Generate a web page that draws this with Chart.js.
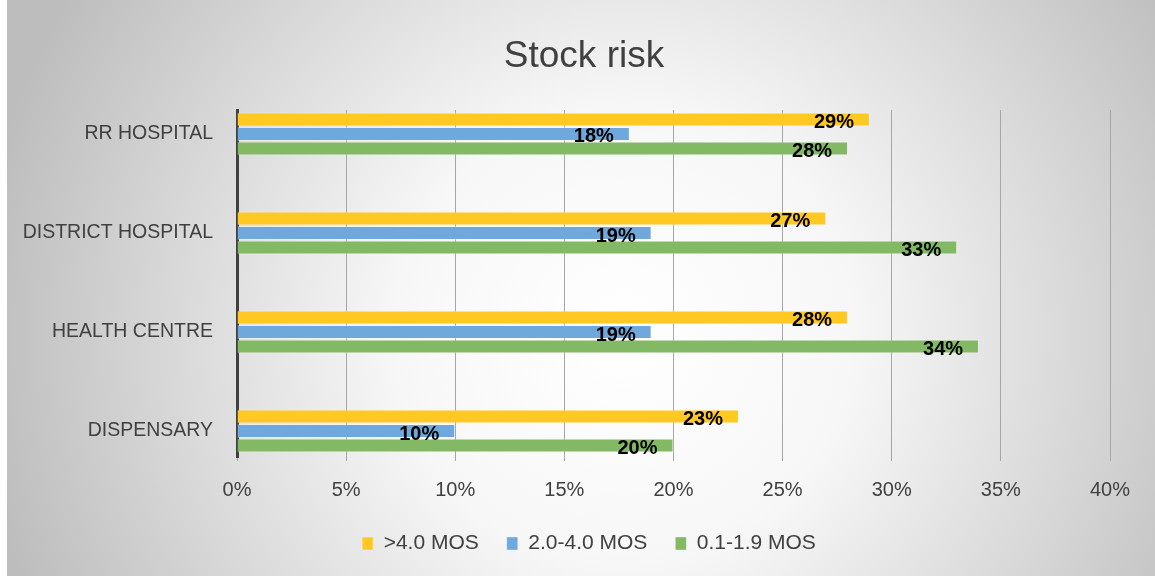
<!DOCTYPE html>
<html>
<head>
<meta charset="utf-8">
<script src="https://cdn.jsdelivr.net/npm/chart.js@4.4.1/dist/chart.umd.min.js"></script>
<style>
  html, body { margin: 0; padding: 0; background: #ffffff; }
  #wrap { width: 1155px; height: 578px; position: relative; }
</style>
</head>
<body>
<div id="wrap"><canvas id="c" width="1155" height="578"></canvas></div>
<script>
const categories = ['RR HOSPITAL', 'DISTRICT HOSPITAL', 'HEALTH CENTRE', 'DISPENSARY'];
const seriesNames = ['>4.0 MOS', '2.0-4.0 MOS', '0.1-1.9 MOS'];
const over4 = [29, 27, 28, 23];
const mid2to4 = [18, 19, 19, 10];
const low01to19 = [28, 33, 34, 20];
const xTicks = [0, 5, 10, 15, 20, 25, 30, 35, 40];
const colors = ['#FFC823', '#6FA8DC', '#83B965'];

const seriesValues = [over4, mid2to4, low01to19];
const font = "'Liberation Sans', Arial, sans-serif";

const bgPlugin = {
  id: 'bg',
  beforeDraw(chart) {
    const ctx = chart.ctx;
    const w = chart.width, h = chart.height;
    ctx.save();
    ctx.fillStyle = '#ffffff';
    ctx.fillRect(0, 0, w, h);
    const g = ctx.createRadialGradient(w * 0.54, h * 0.58, 0, w * 0.54, h * 0.58, 650);
    g.addColorStop(0, '#ffffff');
    g.addColorStop(0.35, '#f7f7f7');
    g.addColorStop(1, '#bdbdbd');
    ctx.fillStyle = g;
    ctx.fillRect(7, 0, w - 7, h - 2);
    ctx.restore();
  }
};

// shift title and legend so they are centred like the reference
const centrePlugin = {
  id: 'centre',
  afterLayout(chart) {
    if (chart.legend) { chart.legend.left = 68; }
    if (chart.titleBlock) { chart.titleBlock.left = 58; }
  }
};

const labelPlugin = {
  id: 'barLabels',
  afterDatasetsDraw(chart) {
    const ctx = chart.ctx;
    ctx.save();
    ctx.font = "bold 20px " + font;
    ctx.fillStyle = '#000000';
    ctx.textAlign = 'right';
    ctx.textBaseline = 'middle';
    chart.data.datasets.forEach((ds, di) => {
      const meta = chart.getDatasetMeta(di);
      meta.data.forEach((el, i) => {
        const v = seriesValues[di][i];
        ctx.fillText(v + '%', el.x - 16, el.y + 3);
      });
    });
    ctx.restore();
  }
};

const datasets = seriesNames.map((name, di) => ({
  label: name,
  data: seriesValues[di].map((v, i) => ({ x: v, y: i })),
  backgroundColor: colors[di],
  borderColor: 'rgba(255,255,255,0.35)',
  borderWidth: 1,
  categoryPercentage: 0.44,
  barPercentage: 0.97
}));

new Chart(document.getElementById('c'), {
  type: 'bar',
  data: { datasets },
  plugins: [bgPlugin, centrePlugin, labelPlugin],
  options: {
    indexAxis: 'y',
    responsive: false,
    animation: false,
    layout: { padding: { left: 0, right: 45, top: 0, bottom: 14 } },
    scales: {
      y: {
        type: 'linear',
        reverse: true,
        offset: false,
        min: -0.242,
        max: 3.262,
        afterBuildTicks(scale) {
          scale.ticks = categories.map((_, i) => ({ value: i }));
        },
        afterFit(scale) { scale.width = 237; },
        ticks: {
          callback: (v) => categories[v],
          color: '#404040',
          font: { family: font, size: 19.5 },
          padding: 24
        },
        grid: { display: false, drawTicks: false },
        border: { display: true, color: '#404040', width: 3 }
      },
      x: {
        min: 0,
        max: 40,
        afterBuildTicks(scale) {
          scale.ticks = xTicks.map(v => ({ value: v }));
        },
        afterFit(scale) { scale.height = 48; },
        ticks: {
          callback: (v) => v + '%',
          color: '#404040',
          font: { family: font, size: 20 },
          padding: 17,
          maxRotation: 0
        },
        grid: {
          display: true,
          color: '#a6a6a6',
          lineWidth: 1,
          drawTicks: true,
          tickLength: 4
        },
        border: { display: false }
      }
    },
    plugins: {
      title: {
        display: true,
        text: 'Stock risk',
        color: '#404040',
        font: { family: font, size: 37, weight: 'normal' },
        padding: { top: 35, bottom: 30.6 }
      },
      legend: {
        display: true,
        position: 'bottom',
        labels: {
          color: '#404040',
          font: { family: font, size: 21 },
          boxWidth: 11,
          boxHeight: 13,
          padding: 28
        }
      },
      tooltip: { enabled: false }
    }
  }
});
</script>
</body>
</html>
